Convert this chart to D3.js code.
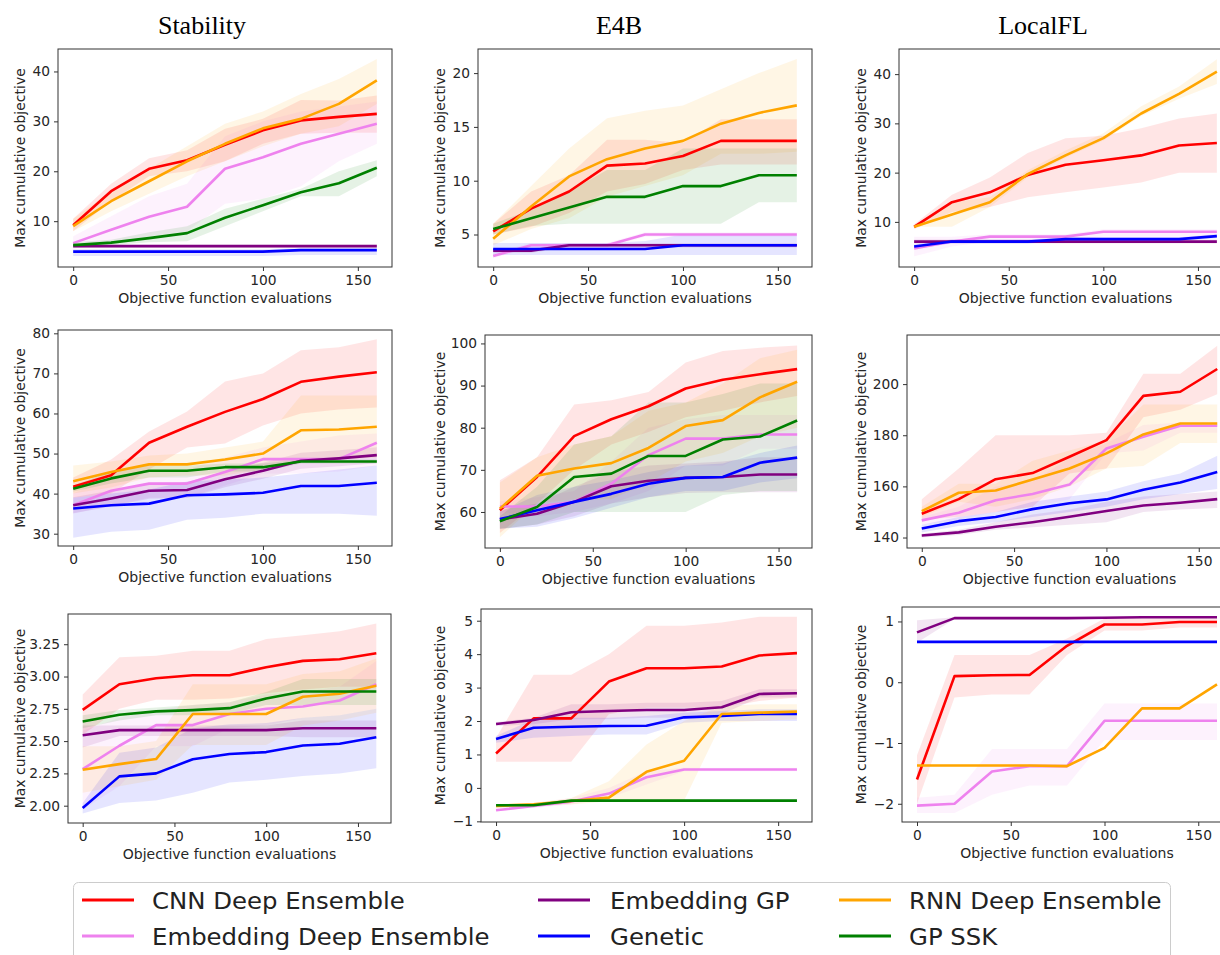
<!DOCTYPE html>
<html><head><meta charset="utf-8">
<script src="https://cdn.jsdelivr.net/npm/d3@7"></script>
<style>
html,body{margin:0;padding:0;background:#fff;}
svg{display:block;font-family:"DejaVu Sans",sans-serif;}
</style></head>
<body>
<svg id="chart" width="1220" height="955"></svg>
<script>
// ---------- categories ----------
const seriesNames = ["CNN Deep Ensemble","Embedding Deep Ensemble","Embedding GP","Genetic","RNN Deep Ensemble","GP SSK"];
const seriesColors = ["red","violet","purple","blue","orange","green"];
const columnTitles = ["Stability","E4B","LocalFL"];
const evals = [0,20,40,60,80,100,120,140,160];
const xTicks = [0,50,100,150];

// ---------- Row 1 ----------
const stab1_mean = [[9.2,16.0,20.5,22.2,25.3,28.2,30.2,30.9,31.5],[5.6,8.3,10.9,12.9,20.5,22.8,25.5,27.5,29.5],[5,5,5,5,5,5,5,5,5],[3.9,3.9,3.9,3.9,3.9,3.9,4.2,4.2,4.2],[9.0,14.0,18.0,22.0,25.5,28.6,30.5,33.5,38.2],[5.2,5.7,6.6,7.6,10.7,13.2,15.8,17.6,20.7]];
const stab1_lo = [[8,14,19,20,22,25.5,27.5,27.7,27.7],[4.5,5.5,7,8,13.5,14.5,17,22,25.5],[4.7,4.7,4.7,4.7,4.7,4.7,4.7,4.7,4.7],[3.0,3.0,3.0,3.0,3.0,3.0,3.2,3.2,3.2],[8,12,15.5,19,22,25,27.5,29,33.5],[4.8,5.2,5.8,6,9,12,15,15,19]];
const stab1_hi = [[10.5,17.5,22.6,24.2,28.5,30.5,34.3,34.2,35.2],[7,11,15,17.5,27,30,32,33,34],[5.3,5.3,5.3,5.3,5.3,5.3,5.3,5.3,5.3],[4.4,4.4,4.4,4.4,4.4,4.4,4.6,4.6,4.6],[10.5,16,20.5,25,29.5,32,35.5,38.5,42.5],[5.8,6.3,7.8,9,12.5,14.5,16.5,20,22.2]];

const e4b1_mean = [[5.3,7.4,9.0,11.4,11.6,12.3,13.7,13.7,13.7],[3,4,4,4,5,5,5,5,5],[3.5,3.5,4,4,4,4,4,4,4],[3.65,3.65,3.65,3.65,3.65,4,4,4,4],[4.6,7.6,10.4,12.0,13.0,13.7,15.3,16.3,17.0],[5.5,6.5,7.5,8.5,8.5,9.5,9.5,10.5,10.5]];
const e4b1_lo = [[5,5.7,7,9,9.7,11,11.5,11.5,11.5],[2.8,3.8,3.8,3.8,4.8,4.8,4.8,4.8,4.8],[3.3,3.3,3.8,3.8,3.8,3.8,3.8,3.8,3.8],[3.1,3.1,3.1,3.1,3.1,3.1,3.1,3.1,3.1],[4,5.5,6.5,8.5,9.5,10.5,12.5,12.5,12.7],[5,5.8,6,6,6,6,6,8,8]];
const e4b1_hi = [[6,9,10.5,13.8,13.8,13.5,15.7,15.7,15.7],[3.3,4.2,4.2,4.2,5.2,5.2,5.2,5.2,5.2],[3.7,3.7,4.2,4.2,4.2,4.2,4.2,4.2,4.2],[4.2,4.2,4.2,4.2,4.4,5,5,5,5],[6,9.5,13,15.8,16.5,17,18.5,20,21.3],[6,7.3,9,11,11,13,13,13,13]];

const lfl1_mean = [[9,14,16,19.5,21.6,22.5,23.5,25.5,26],[4.6,6,7,7,7,8,8,8,8],[6,6,6,6,6,6,6,6,6],[5,6,6,6,6.5,6.5,6.5,6.5,7.1],[9,11.5,14,19.7,23.5,27,32,36,40.5],null];
const lfl1_lo = [[8.5,12,13,15,16,17,18,20,20],[3,5,6,6,6,7,7,7,7],[5.6,5.6,5.6,5.6,5.6,5.6,5.6,5.6,5.6],[4.6,5.6,5.6,5.6,6.1,6.1,6.1,6.1,6.7],[9,9,13,19,23,26.5,31.5,35,38],null];
const lfl1_hi = [[9.5,15.5,19,24,27,27.5,29,31,32],[7,7,7.5,7.5,7.5,8.5,8.5,8.5,8.5],[6.4,6.4,6.4,6.4,6.4,6.4,6.4,6.4,6.4],[5.4,6.4,6.4,6.4,6.9,6.9,6.9,6.9,7.5],[9.2,14,15,20.5,24.5,28,33.5,37.5,43],null];

// ---------- Row 2 ----------
const stab2_mean = [[41.7,44.6,52.7,56.7,60.4,63.6,67.9,69.2,70.3],[37.1,40.7,42.5,42.5,45.4,48.6,48.6,48.6,52.7],[37.1,38.8,40.7,40.9,43.6,45.7,48.2,48.8,49.6],[36.3,37.1,37.5,39.6,39.8,40.2,41.9,41.9,42.7],[43.1,45.4,47.3,47.3,48.5,50.0,55.8,56.0,56.7],[41.2,43.8,45.7,45.7,46.6,46.6,48.0,48.0,48.0]];
const stab2_lo = [[39,40,46,51.5,52.5,57,60,61,61.5],[35,37,39,39,42,45,45,45.5,47],[35.1,36.8,38.7,38.9,41.6,43.7,46.2,46.8,47.6],[29,30.5,31,33.5,34,35,35,35,34.5],[40,41.5,44,44.5,44.5,46,48.5,48.5,49],[40.5,42.5,44,44,45.5,45.5,47.5,47.5,47.5]];
const stab2_hi = [[44,48.5,55.5,60.5,68,70,75.8,76.5,78.5],[40,44,46,46,49,51.5,53,54.5,55],[39.1,40.8,42.7,42.9,45.6,47.7,50.2,50.8,51.6],[39,40,41,43,43.5,44,45,46,47],[47,48,49.5,50,51.5,53,64.5,64.5,64.5],[42,45.5,47,47,47.5,47.5,48.5,48.5,48.5]];

const e4b2_mean = [[60.4,68.3,78.0,82.0,85.1,89.3,91.4,92.7,93.9],[61.3,61.3,62.4,66.7,73.5,77.4,77.4,78.4,78.4],[58.2,59.6,62.4,66.1,67.4,68.1,68.3,68.9,68.9],[58.3,60.4,62.4,64.3,66.7,68.1,68.3,71.7,72.9],[60.8,68.6,70.3,71.6,75.2,80.4,81.8,87.2,90.9],[57.8,61.2,68.3,69.1,73.3,73.3,77.2,77.9,81.7]];
const e4b2_lo = [[55,62,70,76,79,82.5,84,86,87.5],[60,59,60,62,65,71,71,75,75],[56,57,59,62,63.5,64.5,64.7,64.7,64.7],[56,56.5,58.5,61,63.5,65,65,67,68],[54,62,63,63,67,72,74,78,80],[56,57,60,60,60,60,64,65,65]];
const e4b2_hi = [[67.5,73,85.5,86.5,88.5,95.5,98.2,99,99.5],[62.5,63.5,65,72,80,82,83,83,83],[60.5,62,66,69.5,71,71.5,72,73,73],[60,64,66,67.5,69.5,71,71.5,74,75.8],[67,73,76,78,84,86,90.5,96.5,98.5],[59,66,76,78,86,86,88,90.5,90.5]];

const lfl2_mean = [[149.3,155.0,162.8,165.2,171.6,178.1,195.4,197.0,205.9],[146.7,149.7,154.6,157.0,160.7,174.8,179.4,183.7,183.7],[140.8,142.0,144.2,146.0,148.1,150.4,152.5,153.6,155.0],[143.5,146.4,148.0,151.1,153.4,154.9,158.7,161.5,165.6],[150.3,157.5,158.4,162.7,167.0,172.9,180.3,184.6,184.6],null];
const lfl2_lo = [[147,148,150,152,165,167,187,190,196],[145,147,150,152,155,173,174,181,181],[140,141,143,144,145,146,150,151,151.5],[142,144.5,146,148,150,152,155,157,159],[148,154,152,155,160,167,168,177,177],null];
const lfl2_hi = [[155,167,180,180,180,181,204,204,215],[148,152,160,162,171,177,184,185,185],[141.5,143,146,149,151,154,156,157,158],[145,148,150,154,156,158,162,165,172],[152,161,161,170,174,178,192,192,192],null];

// ---------- Row 3 ----------
const stab3_mean = [[2.742,2.94,2.987,3.01,3.01,3.072,3.121,3.134,3.18],[2.283,2.464,2.624,2.624,2.71,2.75,2.768,2.814,2.94],[2.546,2.585,2.585,2.585,2.585,2.585,2.6,2.6,2.6],[1.982,2.227,2.25,2.36,2.40,2.415,2.466,2.479,2.53],[2.278,2.322,2.361,2.71,2.71,2.71,2.843,2.866,2.928],[2.652,2.704,2.73,2.74,2.755,2.83,2.884,2.884,2.884]];
const stab3_lo = [[2.55,2.75,2.82,2.82,2.83,2.87,2.90,2.92,2.92],[1.97,2.15,2.46,2.46,2.60,2.62,2.68,2.70,2.75],[2.45,2.54,2.54,2.54,2.54,2.54,2.53,2.53,2.53],[1.94,2.02,2.04,2.10,2.18,2.20,2.23,2.25,2.29],[2.10,2.15,2.20,2.47,2.47,2.47,2.62,2.66,2.72],[2.60,2.66,2.70,2.70,2.71,2.78,2.78,2.78,2.78]];
const stab3_hi = [[2.86,3.15,3.16,3.20,3.20,3.29,3.32,3.35,3.41],[2.58,2.68,2.74,2.78,2.80,2.86,2.88,2.92,3.12],[2.62,2.62,2.62,2.62,2.62,2.62,2.66,2.66,2.66],[2.02,2.41,2.45,2.60,2.63,2.64,2.68,2.70,2.75],[2.46,2.46,2.50,2.94,2.94,2.94,3.02,3.04,3.14],[2.70,2.74,2.76,2.78,2.80,2.88,2.98,2.98,2.98]];

const e4b3_mean = [[1.03,2.08,2.08,3.18,3.58,3.58,3.63,3.96,4.03],[-0.67,-0.54,-0.41,-0.17,0.32,0.55,0.55,0.55,0.55],[1.91,2.03,2.26,2.30,2.33,2.33,2.41,2.81,2.83],[1.46,1.80,1.83,1.85,1.86,2.11,2.15,2.21,2.21],[-0.54,-0.49,-0.39,-0.29,0.48,0.81,2.21,2.25,2.28],[-0.52,-0.52,-0.38,-0.38,-0.38,-0.38,-0.38,-0.38,-0.38]];
const e4b3_lo = [[0.78,0.78,0.78,2.2,2.4,2.4,2.4,2.6,2.7],[-0.7,-0.6,-0.5,-0.3,0.1,0.5,0.5,0.5,0.5],[1.85,1.9,2.05,2.05,2.1,2.1,2.2,2.7,2.7],[1.35,1.5,1.55,1.6,1.6,1.95,2.0,2.0,2.0],[-0.6,-0.55,-0.5,-0.4,-0.35,-0.38,1.95,2.0,2.05],[-0.56,-0.56,-0.42,-0.42,-0.42,-0.42,-0.42,-0.42,-0.42]];
const e4b3_hi = [[1.5,3.38,3.38,4.0,4.85,4.85,4.95,5.12,5.12],[-0.6,-0.45,-0.3,0.0,0.5,0.6,0.6,0.6,0.6],[1.97,2.1,2.5,2.5,2.55,2.55,2.6,2.95,2.95],[1.55,2.05,2.1,2.1,2.15,2.25,2.3,2.35,2.35],[-0.48,-0.45,-0.3,0.2,1.3,2.0,2.45,2.5,2.5],[-0.48,-0.48,-0.34,-0.34,-0.34,-0.34,-0.34,-0.34,-0.34]];

const lfl3_mean = [[-1.60,0.10,0.114,0.12,0.60,0.95,0.95,0.99,0.99],[-2.03,-2.0,-1.47,-1.38,-1.38,-0.635,-0.635,-0.635,-0.635],[0.82,1.055,1.055,1.055,1.055,1.06,1.07,1.07,1.07],[0.664,0.664,0.664,0.664,0.664,0.664,0.664,0.664,0.664],[-1.37,-1.37,-1.37,-1.37,-1.38,-1.08,-0.43,-0.43,-0.035],null];
const lfl3_lo = [[-2.0,-0.25,-0.2,-0.2,0.45,0.85,0.85,0.9,0.9],[-2.15,-2.15,-1.85,-1.7,-1.7,-0.95,-0.95,-0.95,-0.95],[0.65,1.04,1.04,1.04,1.04,1.05,1.06,1.06,1.06],[0.65,0.65,0.65,0.65,0.65,0.65,0.65,0.65,0.65],[-1.39,-1.39,-1.39,-1.39,-1.4,-1.1,-0.45,-0.45,-0.05],null];
const lfl3_hi = [[-1.2,0.45,0.45,0.45,0.72,1.05,1.05,1.05,1.05],[-1.9,-1.85,-1.1,-1.1,-1.1,-0.35,-0.35,-0.35,-0.35],[1.02,1.07,1.07,1.07,1.07,1.08,1.08,1.08,1.08],[0.68,0.68,0.68,0.68,0.68,0.68,0.68,0.68,0.68],[-1.35,-1.35,-1.35,-1.35,-1.36,-1.06,-0.41,-0.41,-0.02],null];

// ---------- y tick labels ----------
const yTicks_stab1 = [10,20,30,40];
const yTicks_e4b1 = [5,10,15,20];
const yTicks_lfl1 = [10,20,30,40];
const yTicks_stab2 = [30,40,50,60,70,80];
const yTicks_e4b2 = [60,70,80,90,100];
const yTicks_lfl2 = [140,160,180,200];
const yTicks_stab3 = [2.00,2.25,2.50,2.75,3.00,3.25];
const yTicks_e4b3 = [-1,0,1,2,3,4,5];
const yTicks_lfl3 = [-2,-1,0,1];

// ---------- layout (positions only) ----------
const panels = [
  {mean:stab1_mean, lo:stab1_lo, hi:stab1_hi, ticks:yTicks_stab1, fmt:"d",   yd:[0.82,44.5],  box:[58,392,49,267], ylx:20},
  {mean:e4b1_mean,  lo:e4b1_lo,  hi:e4b1_hi,  ticks:yTicks_e4b1,  fmt:"d",   yd:[1.98,22.24], box:[478,812,49,267], ylx:440},
  {mean:lfl1_mean,  lo:lfl1_lo,  hi:lfl1_hi,  ticks:yTicks_lfl1,  fmt:"d",   yd:[0.84,45.1],  box:[899,1232,49,267], ylx:861},
  {mean:stab2_mean, lo:stab2_lo, hi:stab2_hi, ticks:yTicks_stab2, fmt:"d",   yd:[26.93,80.83],box:[58,392,330,546], ylx:20},
  {mean:e4b2_mean,  lo:e4b2_lo,  hi:e4b2_hi,  ticks:yTicks_e4b2,  fmt:"d",   yd:[51.45,102],  box:[485,812,335,548], ylx:440},
  {mean:lfl2_mean,  lo:lfl2_lo,  hi:lfl2_hi,  ticks:yTicks_lfl2,  fmt:"d",   yd:[135.9,219.2],box:[907,1232,335,548], ylx:861},
  {mean:stab3_mean, lo:stab3_lo, hi:stab3_hi, ticks:yTicks_stab3, fmt:".2f", yd:[1.866,3.484],box:[68,391,614,823], ylx:20},
  {mean:e4b3_mean,  lo:e4b3_lo,  hi:e4b3_hi,  ticks:yTicks_e4b3,  fmt:"d",   yd:[-1.02,5.35], box:[481,812,609,822], ylx:440},
  {mean:lfl3_mean,  lo:lfl3_lo,  hi:lfl3_hi,  ticks:yTicks_lfl3,  fmt:"d",   yd:[-2.30,1.238],box:[902,1232,607,822], ylx:861}
];
const titleX = [202,619,1043];
const textColor = "#262626";

const svg = d3.select("#chart");

// column titles
columnTitles.forEach((t,i)=>{
  svg.append("text").attr("x",titleX[i]).attr("y",34).attr("text-anchor","middle")
    .attr("font-family","'Liberation Serif','Times New Roman',serif").attr("font-size",26)
    .attr("fill","#000").text(t);
});

panels.forEach(p=>{
  const [L,R,T,B] = p.box;
  const x = d3.scaleLinear().domain([-8,168]).range([L,R]);
  const y = d3.scaleLinear().domain(p.yd).range([B,T]);
  const g = svg.append("g");

  // bands
  seriesNames.forEach((s,k)=>{
    if(!p.mean[k]) return;
    const area = d3.area().x((d,i)=>x(evals[i])).y0((d,i)=>y(p.lo[k][i])).y1((d,i)=>y(p.hi[k][i]));
    g.append("path").datum(p.mean[k]).attr("d",area)
      .attr("fill",seriesColors[k]).attr("fill-opacity",0.1).attr("stroke","none");
  });
  // lines
  seriesNames.forEach((s,k)=>{
    if(!p.mean[k]) return;
    const line = d3.line().x((d,i)=>x(evals[i])).y(d=>y(d));
    g.append("path").datum(p.mean[k]).attr("d",line)
      .attr("fill","none").attr("stroke",seriesColors[k]).attr("stroke-width",2.6)
      .attr("stroke-linejoin","round");
  });

  // frame
  g.append("rect").attr("x",L).attr("y",T).attr("width",R-L).attr("height",B-T)
    .attr("fill","none").attr("stroke","#333").attr("stroke-width",1);

  // axes
  const xa = g.append("g").attr("transform",`translate(0,${B})`)
    .call(d3.axisBottom(x).tickValues(xTicks).tickSize(4).tickPadding(4).tickFormat(d3.format("d")));
  const ya = g.append("g").attr("transform",`translate(${L},0)`)
    .call(d3.axisLeft(y).tickValues(p.ticks).tickSize(4).tickPadding(4).tickFormat(d3.format(p.fmt)));
  [xa,ya].forEach(a=>{
    a.select(".domain").remove();
    a.selectAll("line").attr("stroke","#333");
    a.selectAll("text").attr("font-size",13.8).attr("fill",textColor).attr("font-family","'DejaVu Sans',sans-serif");
  });

  // axis labels
  g.append("text").attr("x",(L+R)/2).attr("y",B+36).attr("text-anchor","middle")
    .attr("font-size",14).attr("fill",textColor).text("Objective function evaluations");
  g.append("text").attr("transform",`translate(${p.ylx+5},${(T+B)/2}) rotate(-90)`)
    .attr("text-anchor","middle").attr("font-size",14).attr("fill",textColor).text("Max cumulative objective");
});

// legend
const lg = svg.append("g");
lg.append("rect").attr("x",73.5).attr("y",882.5).attr("width",1097).attr("height",90).attr("rx",5)
  .attr("fill","#fff").attr("stroke","#cccccc").attr("stroke-width",1);
const legCols = [[82,152],[538,610],[839,909]];
const legRows = [900,936];
// ncol=3, filled column-wise
seriesNames.forEach((s,k)=>{
  const c = Math.floor(k/2), r = k%2;
  const [lx,tx] = legCols[c];
  lg.append("line").attr("x1",lx).attr("x2",lx+52).attr("y1",legRows[r]).attr("y2",legRows[r])
    .attr("stroke",seriesColors[k]).attr("stroke-width",3);
  lg.append("text").attr("transform",`translate(${tx},${legRows[r]+9}) scale(1.06,1)`)
    .attr("font-size",23).attr("fill","#222").text(s);
});
</script>
</body></html>
